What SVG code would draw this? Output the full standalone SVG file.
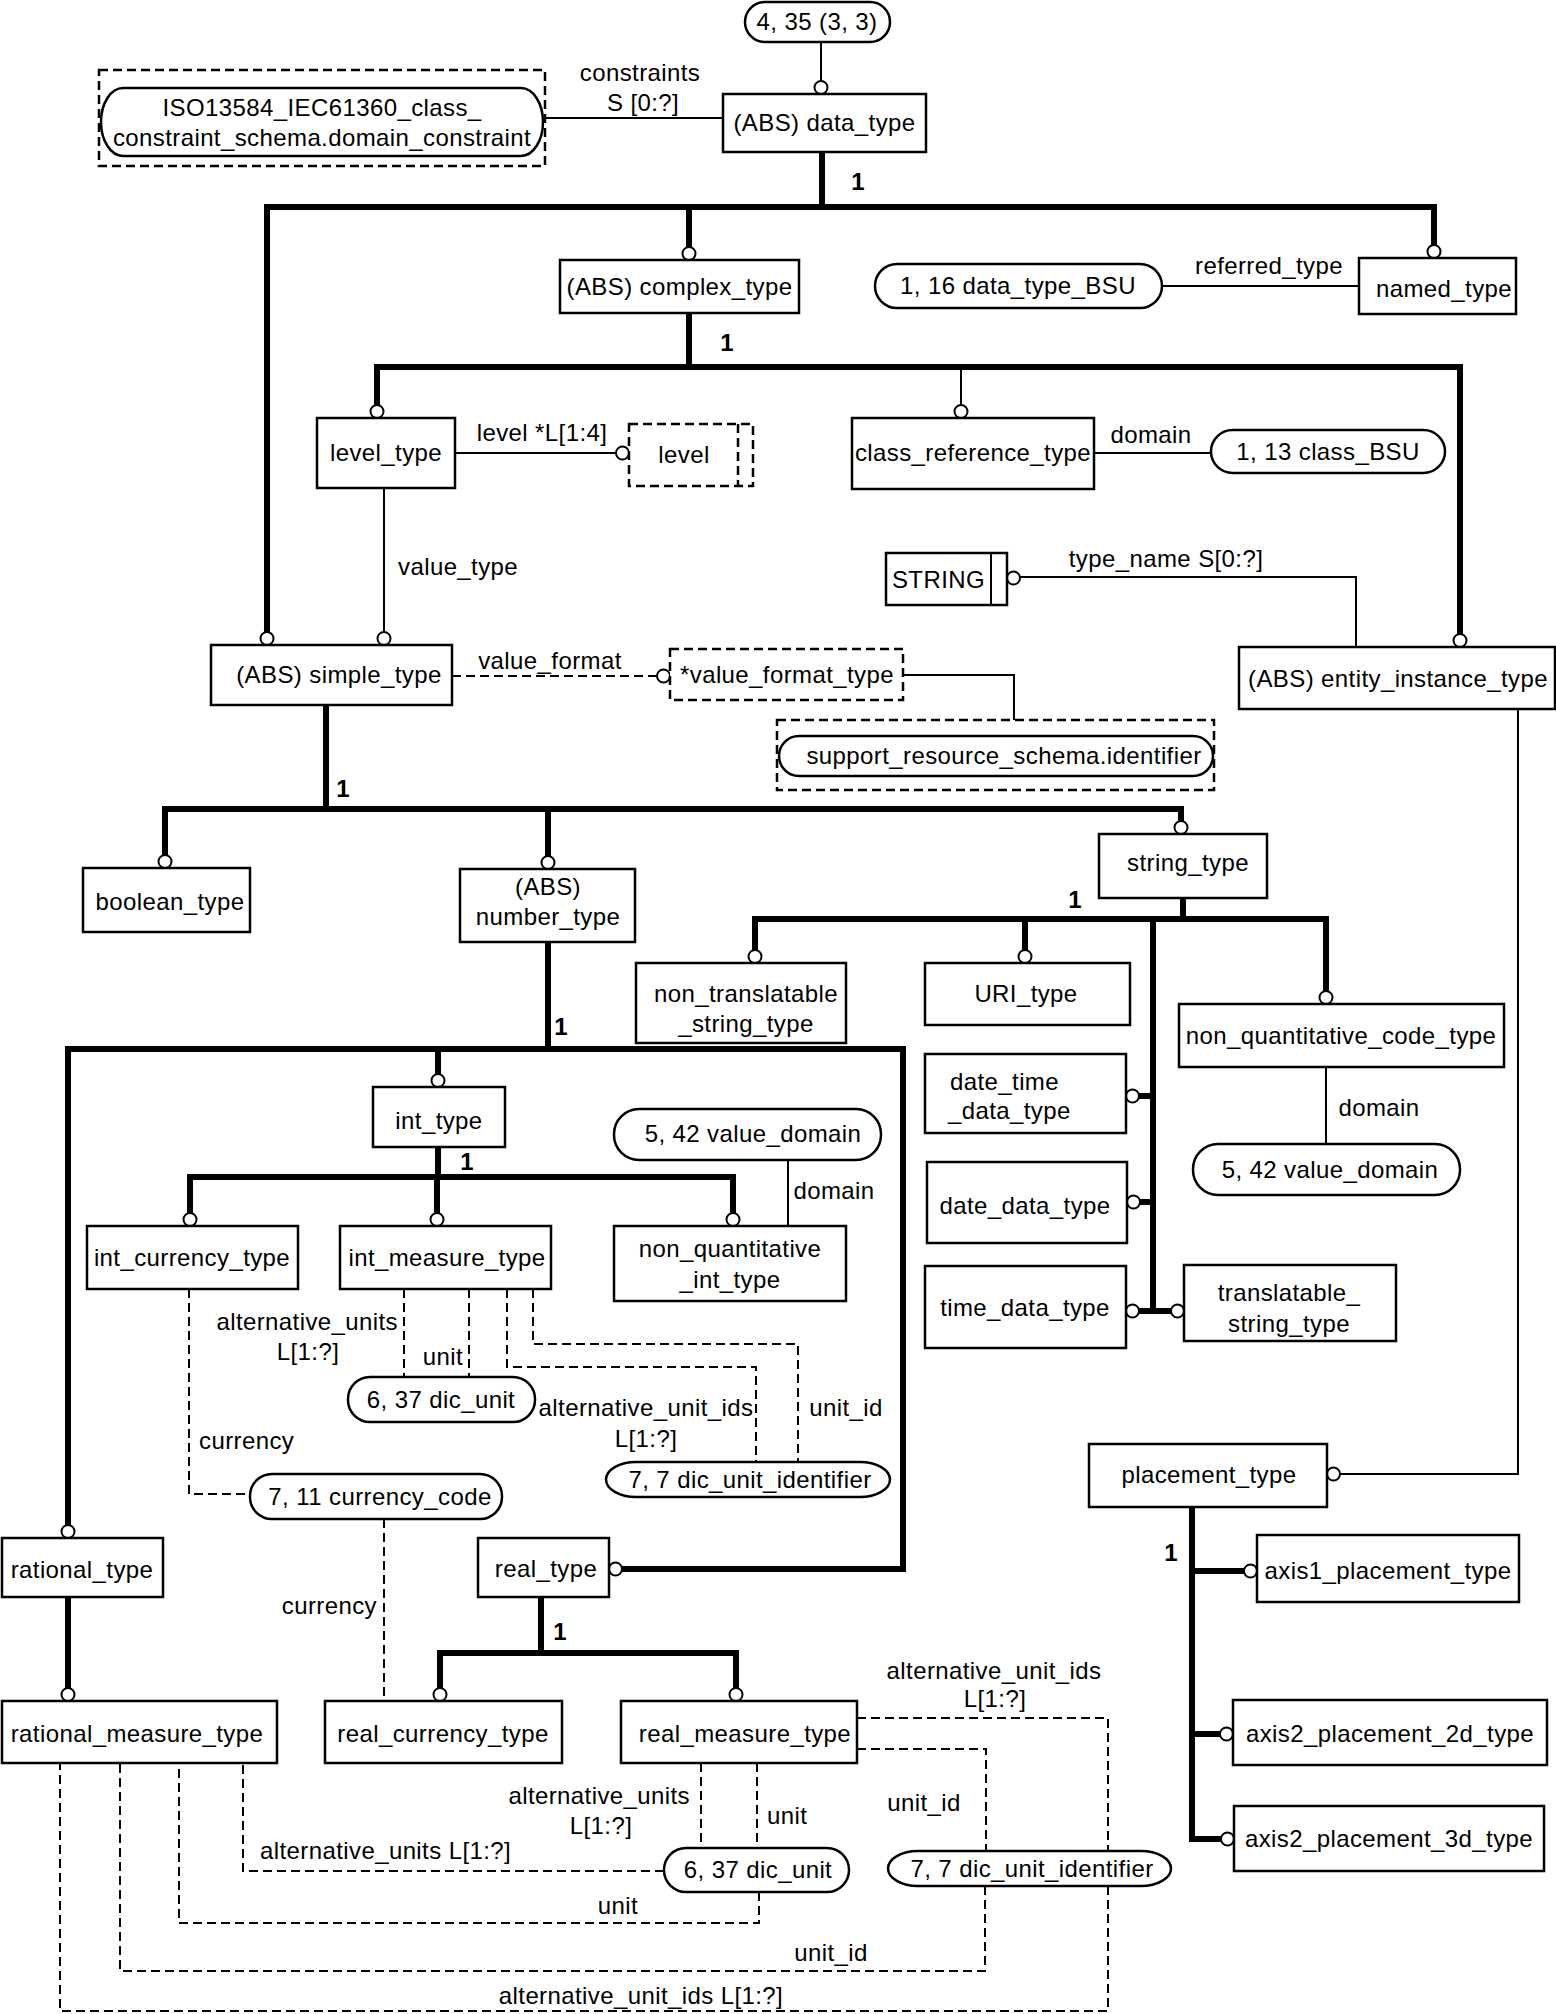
<svg xmlns="http://www.w3.org/2000/svg" width="1556" height="2014" viewBox="0 0 1556 2014">
<style>
.bx{fill:#fff;stroke:#000;stroke-width:2.5}
.db{fill:#fff;stroke:#000;stroke-width:2.5;stroke-dasharray:9,5}
.dl{fill:none;stroke:#000;stroke-width:2.5;stroke-dasharray:9,5}
.pl{fill:#fff;stroke:#000;stroke-width:2.5}
.tn{fill:none;stroke:#000;stroke-width:2}
.tk{fill:none;stroke:#000;stroke-width:6}
.ds{fill:none;stroke:#000;stroke-width:2;stroke-dasharray:9,5}
.ci{fill:#fff;stroke:#000;stroke-width:2}
text{font-family:"Liberation Sans",Arial,Helvetica,sans-serif;font-size:24px;letter-spacing:0.4px;fill:#000}
.m{text-anchor:middle}
.e{text-anchor:end}
.b{font-weight:bold}
</style>
<rect width="1556" height="2014" fill="#fff"/>
<g id="connectors">
<line class="tn" x1="821" y1="42" x2="821" y2="81"/>
<line class="tn" x1="543" y1="118" x2="723" y2="118"/>
<line class="tk" x1="822" y1="152" x2="822" y2="207"/>
<polyline class="tk" points="267,632 267,207 1434,207 1434,245"/>
<line class="tk" x1="689" y1="207" x2="689" y2="247"/>
<line class="tn" x1="1162" y1="286" x2="1359" y2="286"/>
<line class="tk" x1="689" y1="313" x2="689" y2="367"/>
<polyline class="tk" points="377,405 377,367 1460,367 1460,634"/>
<line class="tn" x1="961" y1="367" x2="961" y2="405"/>
<line class="tn" x1="1094" y1="453" x2="1211" y2="453"/>
<line class="tn" x1="455" y1="453" x2="616" y2="453"/>
<line class="tn" x1="384" y1="488" x2="384" y2="632"/>
<polyline class="tn" points="1020,577 1356,577 1356,647"/>
<line class="ds" x1="452" y1="676" x2="657" y2="676"/>
<polyline class="tn" points="903,675 1014,675 1014,720"/>
<polyline class="tn" points="1518,709 1518,1474 1340,1474"/>
<line class="tk" x1="326" y1="705" x2="326" y2="809"/>
<polyline class="tk" points="165,855 165,809 1181,809 1181,821"/>
<line class="tk" x1="548" y1="809" x2="548" y2="856"/>
<line class="tk" x1="1183" y1="898" x2="1183" y2="919"/>
<polyline class="tk" points="755,950 755,919 1326,919 1326,991"/>
<line class="tk" x1="1025" y1="919" x2="1025" y2="950"/>
<line class="tk" x1="1153" y1="919" x2="1153" y2="1314"/>
<line class="tk" x1="1139" y1="1096" x2="1153" y2="1096"/>
<line class="tk" x1="1140" y1="1202" x2="1153" y2="1202"/>
<line class="tk" x1="1139" y1="1311" x2="1171" y2="1311"/>
<line class="tn" x1="1326" y1="1067" x2="1326" y2="1144"/>
<line class="tk" x1="548" y1="942" x2="548" y2="1049"/>
<polyline class="tk" points="68,1525 68,1049 903,1049 903,1569 622,1569"/>
<line class="tk" x1="438" y1="1049" x2="438" y2="1074"/>
<line class="tk" x1="438" y1="1147" x2="438" y2="1177"/>
<polyline class="tk" points="190,1213 190,1177 733,1177 733,1213"/>
<line class="tk" x1="437" y1="1177" x2="437" y2="1213"/>
<line class="tn" x1="788" y1="1160" x2="788" y2="1226"/>
<polyline class="ds" points="189,1289 189,1494 250,1494"/>
<line class="ds" x1="404" y1="1289" x2="404" y2="1377"/>
<line class="ds" x1="469" y1="1289" x2="469" y2="1377"/>
<polyline class="ds" points="507,1289 507,1367 756,1367 756,1462"/>
<polyline class="ds" points="533,1289 533,1344 798,1344 798,1462"/>
<line class="ds" x1="384" y1="1519" x2="384" y2="1701"/>
<line class="tk" x1="68" y1="1597" x2="68" y2="1688"/>
<line class="tk" x1="541" y1="1597" x2="541" y2="1653"/>
<polyline class="tk" points="440,1688 440,1653 736,1653 736,1688"/>
<polyline class="ds" points="857,1718 1108,1718 1108,1851"/>
<polyline class="ds" points="1108,1886 1108,2011 60,2011 60,1763"/>
<polyline class="ds" points="857,1749 986,1749 986,1851"/>
<polyline class="ds" points="985,1886 985,1971 120,1971 120,1763"/>
<line class="ds" x1="701" y1="1763" x2="701" y2="1848"/>
<line class="ds" x1="757" y1="1763" x2="757" y2="1848"/>
<polyline class="ds" points="664,1871 243,1871 243,1763"/>
<polyline class="ds" points="759,1892 759,1923 179,1923 179,1763"/>
<polyline class="tk" points="1192,1507 1192,1839 1221,1839"/>
<line class="tk" x1="1192" y1="1571" x2="1244" y2="1571"/>
<line class="tk" x1="1192" y1="1734" x2="1220" y2="1734"/>
<circle class="ci" cx="821" cy="87.5" r="6.5"/>
<circle class="ci" cx="1434" cy="251.5" r="6.5"/>
<circle class="ci" cx="689" cy="253.5" r="6.5"/>
<circle class="ci" cx="377" cy="411.5" r="6.5"/>
<circle class="ci" cx="961" cy="411.5" r="6.5"/>
<circle class="ci" cx="1460" cy="640.5" r="6.5"/>
<circle class="ci" cx="622.5" cy="453" r="6.5"/>
<circle class="ci" cx="267" cy="638.5" r="6.5"/>
<circle class="ci" cx="384" cy="638.5" r="6.5"/>
<circle class="ci" cx="1013.5" cy="578" r="6.5"/>
<circle class="ci" cx="663.5" cy="676" r="6.5"/>
<circle class="ci" cx="1333.5" cy="1474" r="6.5"/>
<circle class="ci" cx="165" cy="861.5" r="6.5"/>
<circle class="ci" cx="548" cy="862.5" r="6.5"/>
<circle class="ci" cx="1181" cy="827.5" r="6.5"/>
<circle class="ci" cx="755" cy="956.5" r="6.5"/>
<circle class="ci" cx="1025" cy="956.5" r="6.5"/>
<circle class="ci" cx="1326" cy="997.5" r="6.5"/>
<circle class="ci" cx="1132.5" cy="1096" r="6.5"/>
<circle class="ci" cx="1133.5" cy="1202" r="6.5"/>
<circle class="ci" cx="1132.5" cy="1311" r="6.5"/>
<circle class="ci" cx="1177.5" cy="1311" r="6.5"/>
<circle class="ci" cx="68" cy="1531.5" r="6.5"/>
<circle class="ci" cx="615.5" cy="1569" r="6.5"/>
<circle class="ci" cx="438" cy="1080.5" r="6.5"/>
<circle class="ci" cx="190" cy="1219.5" r="6.5"/>
<circle class="ci" cx="437" cy="1219.5" r="6.5"/>
<circle class="ci" cx="733" cy="1219.5" r="6.5"/>
<circle class="ci" cx="68" cy="1694.5" r="6.5"/>
<circle class="ci" cx="440" cy="1694.5" r="6.5"/>
<circle class="ci" cx="736" cy="1694.5" r="6.5"/>
<circle class="ci" cx="1250.5" cy="1571" r="6.5"/>
<circle class="ci" cx="1226.5" cy="1734" r="6.5"/>
<circle class="ci" cx="1227.5" cy="1839" r="6.5"/>
<text x="640" y="81" class="m">constraints</text>
<text x="643" y="111" class="m">S [0:?]</text>
<text x="858" y="190" class="m b">1</text>
<text x="1269" y="274" class="m">referred_type</text>
<text x="727" y="351" class="m b">1</text>
<text x="542" y="441" class="m">level *L[1:4]</text>
<text x="1151" y="443" class="m">domain</text>
<text x="398" y="575">value_type</text>
<text x="1166" y="567" class="m">type_name S[0:?]</text>
<text x="550" y="669" class="m">value_format</text>
<text x="343" y="797" class="m b">1</text>
<text x="1075" y="908" class="m b">1</text>
<text x="561" y="1035" class="m b">1</text>
<text x="1379" y="1116" class="m">domain</text>
<text x="467" y="1170" class="m b">1</text>
<text x="834" y="1199" class="m">domain</text>
<text x="398" y="1330" class="e">alternative_units</text>
<text x="308" y="1360" class="m">L[1:?]</text>
<text x="443" y="1365" class="m">unit</text>
<text x="646" y="1416" class="m">alternative_unit_ids</text>
<text x="646" y="1447" class="m">L[1:?]</text>
<text x="846" y="1416" class="m">unit_id</text>
<text x="199" y="1449">currency</text>
<text x="377" y="1614" class="e">currency</text>
<text x="560" y="1640" class="m b">1</text>
<text x="994" y="1679" class="m">alternative_unit_ids</text>
<text x="995" y="1707" class="m">L[1:?]</text>
<text x="924" y="1811" class="m">unit_id</text>
<text x="690" y="1804" class="e">alternative_units</text>
<text x="601" y="1834" class="m">L[1:?]</text>
<text x="767" y="1824">unit</text>
<text x="260" y="1859">alternative_units L[1:?]</text>
<text x="618" y="1914" class="m">unit</text>
<text x="831" y="1961" class="m">unit_id</text>
<text x="641" y="2004" class="m">alternative_unit_ids L[1:?]</text>
<text x="1171" y="1561" class="m b">1</text>
</g>
<g id="n_top"><rect class="pl" x="745" y="2" width="145" height="40" rx="20"/><text x="817" y="30" class="m">4, 35 (3, 3)</text></g>
<g id="n_data_type"><rect class="bx" x="723" y="94" width="203" height="58"/><text x="824.5" y="131" class="m">(ABS) data_type</text></g>
<g id="n_iso"><rect class="db" x="99" y="70" width="446" height="96"/><rect class="pl" x="101" y="88" width="442" height="68" rx="22" ry="34"/><text x="322" y="116" class="m">ISO13584_IEC61360_class_</text><text x="322" y="146" class="m">constraint_schema.domain_constraint</text></g>
<g id="n_complex"><rect class="bx" x="560" y="260" width="239" height="53"/><text x="679.5" y="295" class="m">(ABS) complex_type</text></g>
<g id="n_bsu"><rect class="pl" x="875" y="264" width="287" height="44" rx="22"/><text x="1018" y="294" class="m">1, 16 data_type_BSU</text></g>
<g id="n_named"><rect class="bx" x="1359" y="258" width="157" height="56"/><text x="1444" y="297" class="m">named_type</text></g>
<g id="n_level_type"><rect class="bx" x="317" y="418" width="138" height="70"/><text x="386" y="461" class="m">level_type</text></g>
<g id="n_level"><rect class="db" x="629" y="424" width="124" height="62"/><line class="dl" x1="738" y1="424" x2="738" y2="486"/><text x="684" y="463" class="m">level</text></g>
<g id="n_class_ref"><rect class="bx" x="852" y="418" width="242" height="71"/><text x="973" y="461" class="m">class_reference_type</text></g>
<g id="n_class_bsu"><rect class="pl" x="1211" y="430" width="234" height="43" rx="21.5"/><text x="1328" y="460" class="m">1, 13 class_BSU</text></g>
<g id="n_string"><rect class="bx" x="886" y="553" width="121" height="52"/><line class="tn" x1="991" y1="553" x2="991" y2="605"/><text x="938.5" y="588" class="m">STRING</text></g>
<g id="n_entity"><rect class="bx" x="1239" y="647" width="316" height="62"/><text x="1398" y="687" class="m">(ABS) entity_instance_type</text></g>
<g id="n_simple"><rect class="bx" x="211" y="645" width="241" height="60"/><text x="339" y="683" class="m">(ABS) simple_type</text></g>
<g id="n_vft"><rect class="db" x="670" y="649" width="233" height="51"/><text x="787" y="683" class="m">*value_format_type</text></g>
<g id="n_support"><rect class="db" x="777" y="720" width="437" height="70"/><rect class="pl" x="779" y="736" width="434" height="40" rx="20"/><text x="1004" y="764" class="m">support_resource_schema.identifier</text></g>
<g id="n_boolean"><rect class="bx" x="83" y="868" width="167" height="64"/><text x="170" y="910" class="m">boolean_type</text></g>
<g id="n_number"><rect class="bx" x="460" y="869" width="175" height="73"/><text x="548" y="895" class="m">(ABS)</text><text x="548" y="925" class="m">number_type</text></g>
<g id="n_string_type"><rect class="bx" x="1099" y="834" width="168" height="64"/><text x="1188" y="871" class="m">string_type</text></g>
<g id="n_nontrans"><rect class="bx" x="636" y="963" width="210" height="80"/><text x="746" y="1002" class="m">non_translatable</text><text x="746" y="1032" class="m">_string_type</text></g>
<g id="n_uri"><rect class="bx" x="925" y="963" width="205" height="62"/><text x="1026" y="1002" class="m">URI_type</text></g>
<g id="n_nqcode"><rect class="bx" x="1179" y="1004" width="325" height="63"/><text x="1341" y="1044" class="m">non_quantitative_code_type</text></g>
<g id="n_vd_right"><rect class="pl" x="1193" y="1144" width="267" height="51" rx="25"/><text x="1330" y="1178" class="m">5, 42 value_domain</text></g>
<g id="n_datetime"><rect class="bx" x="925" y="1054" width="201" height="79"/><text x="950" y="1090">date_time</text><text x="948" y="1119">_data_type</text></g>
<g id="n_date"><rect class="bx" x="927" y="1162" width="200" height="81"/><text x="1025" y="1214" class="m">date_data_type</text></g>
<g id="n_time"><rect class="bx" x="925" y="1266" width="201" height="82"/><text x="1025" y="1316" class="m">time_data_type</text></g>
<g id="n_trans"><rect class="bx" x="1184" y="1265" width="212" height="76"/><text x="1289" y="1301" class="m">translatable_</text><text x="1289" y="1332" class="m">string_type</text></g>
<g id="n_int"><rect class="bx" x="373" y="1087" width="132" height="60"/><text x="439" y="1129" class="m">int_type</text></g>
<g id="n_int_currency"><rect class="bx" x="87" y="1226" width="211" height="63"/><text x="192" y="1266" class="m">int_currency_type</text></g>
<g id="n_int_measure"><rect class="bx" x="340" y="1226" width="211" height="63"/><text x="447" y="1266" class="m">int_measure_type</text></g>
<g id="n_nqint"><rect class="bx" x="614" y="1226" width="232" height="75"/><text x="730" y="1257" class="m">non_quantitative</text><text x="730" y="1288" class="m">_int_type</text></g>
<g id="n_vd_mid"><rect class="pl" x="614" y="1109" width="267" height="51" rx="25"/><text x="753" y="1142" class="m">5, 42 value_domain</text></g>
<g id="n_dic_unit1"><rect class="pl" x="348" y="1377" width="187" height="45" rx="22"/><text x="441" y="1408" class="m">6, 37 dic_unit</text></g>
<g id="n_dic_id1"><rect class="pl" x="606" y="1462" width="284" height="35" rx="30" ry="17.5"/><text x="750" y="1488" class="m">7, 7 dic_unit_identifier</text></g>
<g id="n_currency_code"><rect class="pl" x="250" y="1474" width="252" height="45" rx="22"/><text x="380" y="1505" class="m">7, 11 currency_code</text></g>
<g id="n_rational"><rect class="bx" x="2" y="1538" width="161" height="59"/><text x="82" y="1578" class="m">rational_type</text></g>
<g id="n_rational_measure"><rect class="bx" x="2" y="1701" width="275" height="62"/><text x="137" y="1742" class="m">rational_measure_type</text></g>
<g id="n_real"><rect class="bx" x="478" y="1538" width="131" height="59"/><text x="546" y="1577" class="m">real_type</text></g>
<g id="n_real_currency"><rect class="bx" x="325" y="1701" width="237" height="62"/><text x="443" y="1742" class="m">real_currency_type</text></g>
<g id="n_real_measure"><rect class="bx" x="621" y="1701" width="236" height="62"/><text x="745" y="1742" class="m">real_measure_type</text></g>
<g id="n_dic_unit2"><rect class="pl" x="664" y="1848" width="185" height="44" rx="22"/><text x="758" y="1878" class="m">6, 37 dic_unit</text></g>
<g id="n_dic_id2"><rect class="pl" x="888" y="1851" width="283" height="35" rx="30" ry="17.5"/><text x="1032" y="1877" class="m">7, 7 dic_unit_identifier</text></g>
<g id="n_placement"><rect class="bx" x="1089" y="1444" width="238" height="63"/><text x="1209" y="1483" class="m">placement_type</text></g>
<g id="n_axis1"><rect class="bx" x="1257" y="1535" width="262" height="67"/><text x="1388" y="1579" class="m">axis1_placement_type</text></g>
<g id="n_axis2d"><rect class="bx" x="1233" y="1700" width="314" height="65"/><text x="1390" y="1742" class="m">axis2_placement_2d_type</text></g>
<g id="n_axis3d"><rect class="bx" x="1234" y="1806" width="310" height="65"/><text x="1389" y="1847" class="m">axis2_placement_3d_type</text></g>
</svg>
